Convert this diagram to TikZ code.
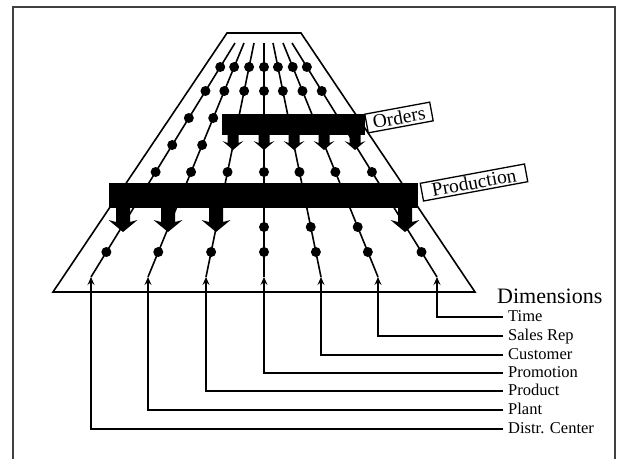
\documentclass[tikz,border=0pt]{standalone}
\usepackage{fontspec}
\setmainfont{Liberation Serif}
\usetikzlibrary{arrows.meta,calc}
\begin{document}
\begin{tikzpicture}[x=1pt,y=-1pt,
  dot/.style={circle,fill=black,draw=none,inner sep=0pt,minimum size=10pt},
  ray/.style={line width=1.6pt},
  lead/.style={line width=1.3pt,-{Stealth[length=8pt,width=7pt,inset=3pt]}},
  bar/.style={fill=black,draw=none,inner sep=0pt},
  blockarrow/.style={fill=black,draw=none},
  tag/.style={draw,line width=1.3pt,fill=white,inner sep=0pt,font=\fontsize{19.5}{21}\selectfont},
  dimlabel/.style={anchor=west,inner xsep=5pt,inner ysep=0pt,text height=10pt,text depth=2pt,font=\fontsize{16.5}{18}\selectfont}]
\useasboundingbox (0,0) rectangle (618,459);

% open frame
\draw[black!75,line width=1.1pt] (13,459) -- (13,7) -- (615,7) -- (615,459);

% the fan of dimension lines
\draw[line width=1.6pt,line join=miter] (227,33) -- (301,33) -- (475,292) -- (53,292) -- cycle;
\foreach \i/\t/\b in {1/235/91,2/244/148,3/254/206,4/264/264,5/273/321,6/283/378,7/292/437}{
  \coordinate (t\i) at (\t,43);
  \coordinate (b\i) at (\b,277);
  \draw[ray] (t\i) -- (b\i);
}

% level markers along each line
\foreach \i/\rows in {1/{67,91,118,145,172,252},2/{67,91,118,145,172,252},
                      3/{67,91,172,252},4/{67,91,172,227,252},5/{67,91,172,227,252},
                      6/{67,91,172,227,252},7/{67,91,172,252}}{
  \foreach \r in \rows{
    \node[dot] (d\i-\r) at ($(t\i)!{(\r-43)/234}!(b\i)$) {};
  }
}

% fact tables
\node[bar,minimum width=143pt,minimum height=21pt] (ordersbar) at (293.5,124.5) {};
\node[bar,minimum width=309pt,minimum height=25pt] (prodbar) at (263.5,195.5) {};

\foreach \x in {233,264,294,324,355}{
  \fill[blockarrow] (\x-5.5,134) -- (\x-5.5,143) -- (\x-10.5,141) -- (\x,150) -- (\x+10.5,141) -- (\x+5.5,143) -- (\x+5.5,134) -- cycle;
}
\foreach \x in {123,168,216,405}{
  \fill[blockarrow] (\x-7,207) -- (\x-7,222) -- (\x-14.5,220) -- (\x,232) -- (\x+14.5,220) -- (\x+7,222) -- (\x+7,207) -- cycle;
}

\node[tag,rotate=10.5,minimum width=66pt,minimum height=19pt] (orders) at (399,117.5) {Orders};
\node[tag,rotate=10.5,minimum width=106pt,minimum height=18pt] (production) at (474,182.5) {Production};

% legend
\node[anchor=base west,inner sep=0pt,font=\fontsize{22}{24}\selectfont] (dimhead) at (497,303.5) {Dimensions};
\node[dimlabel] (l7) at (503,317) {Time};
\node[dimlabel] (l6) at (503,336) {Sales Rep};
\node[dimlabel] (l5) at (503,355) {Customer};
\node[dimlabel] (l4) at (503,373) {Promotion};
\node[dimlabel] (l3) at (503,391) {Product};
\node[dimlabel] (l2) at (503,410) {Plant};
\node[dimlabel] (l1) at (503,429) {Distr. Center};
\foreach \i in {1,...,7}{
  \draw[lead] (l\i.west) -| (b\i);
}
\end{tikzpicture}
\end{document}
